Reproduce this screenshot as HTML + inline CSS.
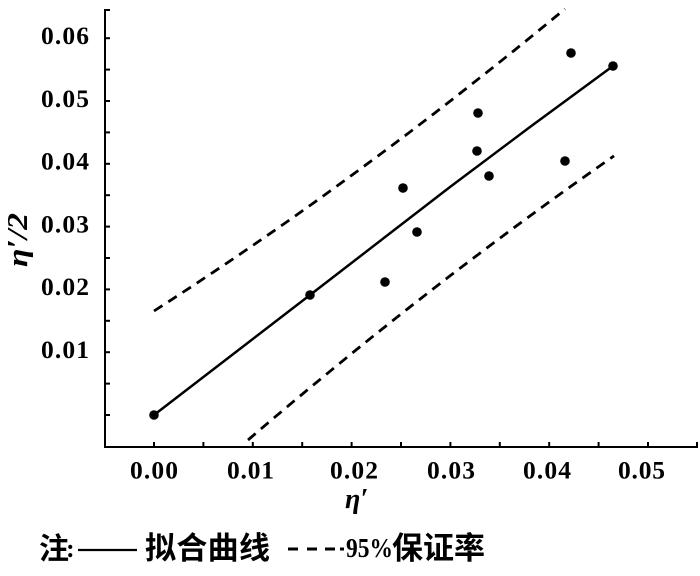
<!DOCTYPE html>
<html>
<head>
<meta charset="utf-8">
<style>
  html, body { margin: 0; padding: 0; background: #fff; }
  svg { display: block; }
  .tk { font-family: "Liberation Serif", serif; font-weight: bold; fill: #000; }
  .cjk { font-family: "Liberation Serif", "Noto Sans CJK SC", sans-serif; font-weight: bold; fill: #000; }
</style>
</head>
<body>
<svg width="700" height="576" viewBox="0 0 700 576" xmlns="http://www.w3.org/2000/svg">
  <rect width="700" height="576" fill="#fff"/>
  <!-- axes -->
  <g stroke="#000" stroke-width="2" fill="none">
    <line x1="105" y1="9" x2="105" y2="448"/>
    <line x1="104" y1="447" x2="698" y2="447"/>
    <line x1="105" y1="10" x2="110" y2="10"/>
    <line x1="105" y1="38.2" x2="110" y2="38.2"/>
    <line x1="105" y1="69.6" x2="110" y2="69.6"/>
    <line x1="105" y1="101" x2="110" y2="101"/>
    <line x1="105" y1="132.4" x2="110" y2="132.4"/>
    <line x1="105" y1="163.8" x2="110" y2="163.8"/>
    <line x1="105" y1="195.2" x2="110" y2="195.2"/>
    <line x1="105" y1="226.6" x2="110" y2="226.6"/>
    <line x1="105" y1="258" x2="110" y2="258"/>
    <line x1="105" y1="289.4" x2="110" y2="289.4"/>
    <line x1="105" y1="320.8" x2="110" y2="320.8"/>
    <line x1="105" y1="352.2" x2="110" y2="352.2"/>
    <line x1="105" y1="383.6" x2="110" y2="383.6"/>
    <line x1="105" y1="415" x2="110" y2="415"/>
    <line x1="154" y1="447" x2="154" y2="442"/>
    <line x1="203.4" y1="447" x2="203.4" y2="442"/>
    <line x1="252.8" y1="447" x2="252.8" y2="442"/>
    <line x1="302.2" y1="447" x2="302.2" y2="442"/>
    <line x1="351.6" y1="447" x2="351.6" y2="442"/>
    <line x1="401" y1="447" x2="401" y2="442"/>
    <line x1="450.4" y1="447" x2="450.4" y2="442"/>
    <line x1="499.8" y1="447" x2="499.8" y2="442"/>
    <line x1="549.2" y1="447" x2="549.2" y2="442"/>
    <line x1="598.6" y1="447" x2="598.6" y2="442"/>
    <line x1="648" y1="447" x2="648" y2="442"/>
    <line x1="697" y1="447" x2="697" y2="442"/>
  </g>

  <!-- y tick labels -->
  <g class="tk" font-size="25.5">
    <text x="41" y="44" textLength="48" lengthAdjust="spacing">0.06</text>
    <text x="41" y="106.8" textLength="48" lengthAdjust="spacing">0.05</text>
    <text x="41" y="169.6" textLength="48" lengthAdjust="spacing">0.04</text>
    <text x="41" y="232.4" textLength="48" lengthAdjust="spacing">0.03</text>
    <text x="41" y="295.2" textLength="48" lengthAdjust="spacing">0.02</text>
    <text x="41" y="358" textLength="48" lengthAdjust="spacing">0.01</text>
    <!-- x tick labels -->
    <text x="130" y="478.5" textLength="48" lengthAdjust="spacing">0.00</text>
    <text x="227" y="478.5" textLength="47" lengthAdjust="spacing">0.01</text>
    <text x="330" y="478.5" textLength="48" lengthAdjust="spacing">0.02</text>
    <text x="427" y="478.5" textLength="48" lengthAdjust="spacing">0.03</text>
    <text x="523" y="478.5" textLength="48" lengthAdjust="spacing">0.04</text>
    <text x="618" y="478.5" textLength="47" lengthAdjust="spacing">0.05</text>
  </g>

  <!-- axis titles -->
  <text x="0" y="0" transform="translate(27,240) rotate(-90)" text-anchor="middle"
        font-family="Liberation Serif, serif" font-weight="bold" font-style="italic" font-size="29"
        textLength="54" lengthAdjust="spacingAndGlyphs">η′/2</text>
  <text x="345" y="508" font-family="Liberation Serif, serif" font-weight="bold" font-style="italic" font-size="28">η′</text>

  <!-- fit line -->
  <path d="M154,415 L310,295 L450,187 L530,127 L613,66" fill="none" stroke="#000" stroke-width="2.5" stroke-linejoin="round"/>

  <!-- upper band -->
  <polyline fill="none" stroke="#000" stroke-width="2.8" stroke-dasharray="10 7"
    points="154,311 174,298.1 194,285 214,271.7 234,258.3 254,244.6 274,230.8 294,216.8 314,202.6 334,188.2 354,173.6 374,158.9 394,144 414,128.9 434,113.6 454,98.1 474,82.4 494,66.6 514,50.6 534,34.4 554,18 565,8.9"/>
  <!-- lower band -->
  <polyline fill="none" stroke="#000" stroke-width="2.8" stroke-dasharray="10 7"
    points="248,440 268,422.9 288,406.1 308,389.4 328,372.9 348,356.5 368,340.3 388,324.4 408,308.5 428,292.9 448,277.4 468,262.2 488,247.1 508,232.1 528,217.4 548,202.8 568,188.4 588,174.2 614,155.9"/>

  <!-- data points -->
  <g fill="#000">
    <circle cx="154" cy="415" r="4.8"/>
    <circle cx="310" cy="295" r="4.8"/>
    <circle cx="385" cy="282" r="4.8"/>
    <circle cx="403" cy="188" r="4.8"/>
    <circle cx="417" cy="232" r="4.8"/>
    <circle cx="478" cy="113" r="4.8"/>
    <circle cx="477" cy="151" r="4.8"/>
    <circle cx="489" cy="176" r="4.8"/>
    <circle cx="565" cy="161" r="4.8"/>
    <circle cx="571" cy="53" r="4.8"/>
    <circle cx="613" cy="66" r="4.8"/>
  </g>

  <!-- legend / note -->
  <text class="cjk" x="39" y="559" font-size="30">注</text>
  <text class="cjk" x="66" y="557" font-size="26">:</text>
  <line x1="78" y1="550" x2="137" y2="550" stroke="#000" stroke-width="2.2"/>
  <text class="cjk" x="145" y="559" font-size="31" textLength="125" lengthAdjust="spacing">拟合曲线</text>
  <g stroke="#000" stroke-width="3">
    <line x1="288" y1="549" x2="298" y2="549"/>
    <line x1="307" y1="549" x2="317" y2="549"/>
    <line x1="325" y1="549" x2="335" y2="549"/>
    <line x1="340" y1="549" x2="344" y2="549"/>
  </g>
  <text class="tk" x="346" y="557" font-size="27" textLength="47" lengthAdjust="spacingAndGlyphs">95%</text>
  <text class="cjk" x="392" y="559" font-size="31" textLength="93" lengthAdjust="spacing">保证率</text>
</svg>
</body>
</html>
